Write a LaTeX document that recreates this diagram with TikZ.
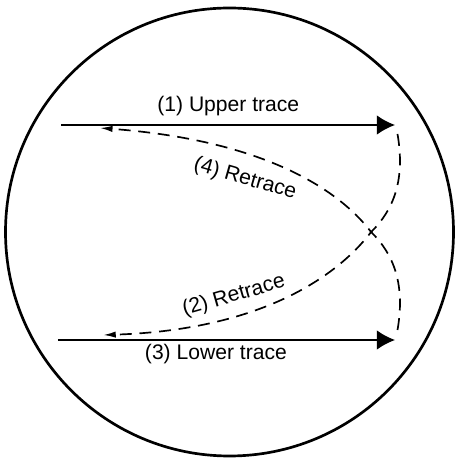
\documentclass[tikz,border=0pt]{standalone}
\usepackage{fontspec}
\setmainfont{Liberation Sans}
\usetikzlibrary{arrows.meta}

\begin{document}
\begin{tikzpicture}[line join=round,
    trace/.style={line width=1.4pt,-{Latex[length=13pt,width=14pt]}},
    retrace/.style={line width=1.2pt,dash pattern=on 8.5pt off 5.5pt,-{Latex[length=9pt,width=4.5pt]}},
    lbl/.style={font=\fontsize{15}{18}\selectfont,inner sep=1pt}]
    \useasboundingbox (-5.7375,-5.725) rectangle (5.7375,5.8);
    % Screen face
    \draw[line width=1.9pt] (0,0) circle (5.6);
    % End points of the traces
    \coordinate (us) at (-4.21,2.675);
    \coordinate (ue) at (4.14,2.675);
    \coordinate (ls) at (-4.29,-2.7);
    \coordinate (le) at (4.14,-2.7);
    \coordinate (x) at (3.54,0);
    % Upper and lower traces
    \draw[trace] (us) -- (ue);
    \draw[trace] (ls) -- (le);
    % Retrace from the top right down to the lower left
    \draw[retrace] (4.2,2.45) .. controls (4.4,1.3) and (4.1,0.55) .. (x)
        .. controls (2.7,-1.1) and (0.8,-2.45) .. (-3.16,-2.575);
    % Retrace from the bottom right up to the upper left
    \draw[retrace] (4.2,-2.45) .. controls (4.4,-1.3) and (4.1,-0.55) .. (x)
        .. controls (2.7,1.1) and (0.8,2.3) .. (-3.24,2.6);
    % Labels
    \node[lbl] (t1) at (-0.03,3.15) {(1) Upper trace};
    \node[lbl] (t3) at (-0.34,-3.05) {(3) Lower trace};
    \node[lbl,rotate=-16] (t4) at (0.39,1.32) {(4) Retrace};
    \node[lbl,rotate=16] (t2) at (0.11,-1.6) {(2) Retrace};
\end{tikzpicture}
\end{document}
